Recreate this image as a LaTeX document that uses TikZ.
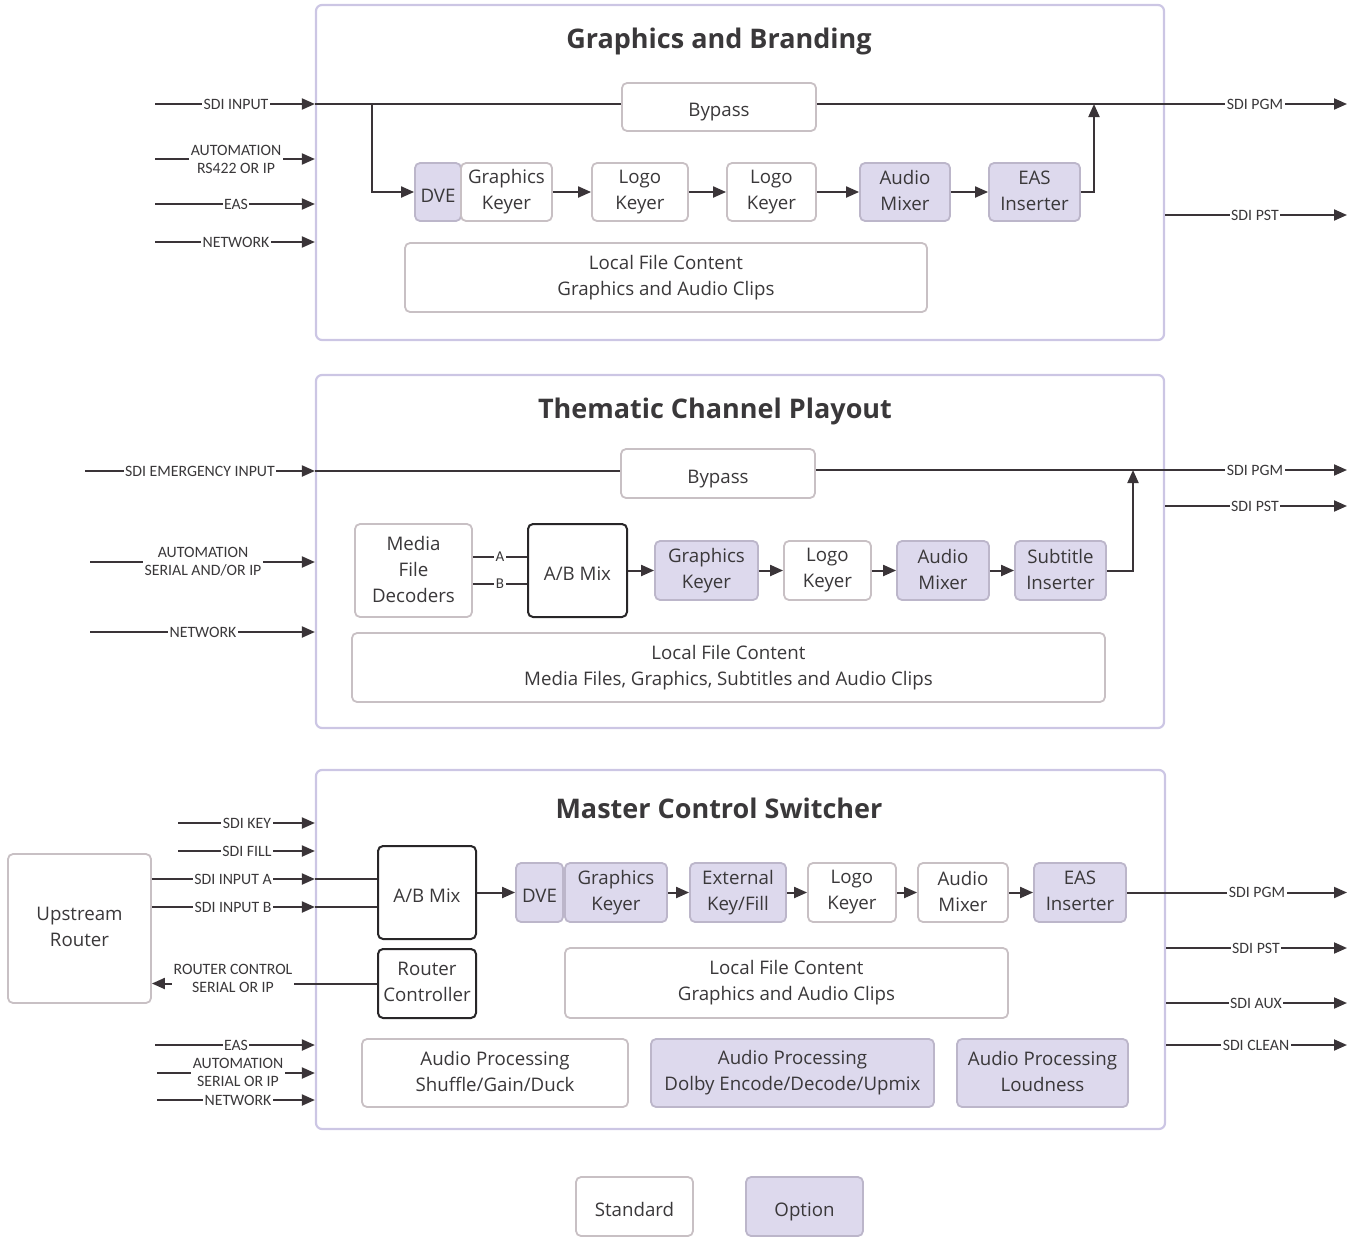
\documentclass[tikz,border=0pt]{standalone}
\usepackage{fontspec}
\setmainfont{Open Sans}
\newfontfamily\lblface{Carlito}
\usetikzlibrary{arrows.meta,calc}
\definecolor{optfill}{RGB}{221,217,237}
\definecolor{boxline}{RGB}{200,192,196}
\definecolor{optline}{RGB}{188,182,202}
\definecolor{panelline}{RGB}{204,198,228}
\definecolor{blkline}{RGB}{40,38,40}
\definecolor{wire}{RGB}{58,52,56}
\definecolor{txt}{RGB}{58,56,58}
\newcommand\bxfont{\fontsize{18.7}{26}\selectfont}
\newcommand\ttlfont{\fontsize{27}{30}\selectfont\bfseries}
\newcommand\lblfnt{\lblface\fontsize{15.8}{18}\selectfont}
\begin{document}
\begin{tikzpicture}[x=1pt,y=-1pt,
  wh/.style 2 args={minimum width=#1pt, minimum height=#2pt},
  box/.style={draw=boxline, line width=1.8pt, rounded corners=5pt, fill=white, text=txt, font=\bxfont, align=center, inner sep=0pt,
    execute at begin node={\rule{0pt}{23.5pt}}, execute at end node={\rule[-3pt]{0pt}{0pt}}},
  opt/.style={box, fill=optfill, draw=optline},
  blk/.style={box, draw=blkline, line width=2pt},
  panel/.style={draw=panelline, line width=2.2pt, rounded corners=6pt, inner sep=0pt},
  title/.style={font=\ttlfont, text=txt},
  conn/.style={draw=wire, line width=2pt},
  arr/.style={conn, -{Triangle[length=13pt,width=11pt]}},
  lbl/.style={font=\lblfnt, fill=white, inner xsep=1.5pt, inner ysep=0.5pt, align=center, text=txt},
]
\useasboundingbox (0,0) rectangle (1363,1237);

% ================= Panel 1 =================
\node[panel, wh={848}{335}] (p1) at (740,172.5) {};
\node[title] (t1) at (719,41) {Graphics and Branding};
\node[box, wh={194}{48}] (bp1) at (719,107) {Bypass};
\node[opt, wh={46}{58}] (dve1) at (438,192) {DVE};
\node[box, wh={91}{58}] (gk1) at (506.5,192) {Graphics\\Keyer};
\node[box, wh={96}{58}] (lk1a) at (640,192) {Logo\\Keyer};
\node[box, wh={89}{58}] (lk1b) at (771.5,192) {Logo\\Keyer};
\node[opt, wh={90}{58}] (am1) at (905,192) {Audio\\Mixer};
\node[opt, wh={91}{58}] (eas1) at (1034.5,192) {EAS\\Inserter};
\node[box, wh={522}{69}] (lf1) at (666,277.5) {Local File Content\\Graphics and Audio Clips};

\coordinate (i1a) at (155,104);
\coordinate (i1b) at (155,159);
\coordinate (i1c) at (155,204);
\coordinate (i1d) at (155,242);
\coordinate (j1) at (372,104);
\coordinate (j2) at (1094,104);
\coordinate (o1a) at (1347,104);
\coordinate (o1b) at (1347,215);

\draw[arr] (i1a) -- (i1a -| p1.west);
\draw[conn] (i1a -| p1.west) -- (bp1.west |- i1a);
\draw[arr] (j1) |- (dve1.west);
\draw[arr] (bp1.east |- o1a) -- (o1a);
\draw[arr] (eas1.east) -| (j2);
\draw[arr] (gk1) -- (lk1a);
\draw[arr] (lk1a) -- (lk1b);
\draw[arr] (lk1b) -- (am1);
\draw[arr] (am1) -- (eas1);
\draw[arr] (i1b) -- (i1b -| p1.west);
\draw[arr] (i1c) -- (i1c -| p1.west);
\draw[arr] (i1d) -- (i1d -| p1.west);
\draw[arr] (o1b -| p1.east) -- (o1b);

\node[lbl] (l1a) at (236,104) {SDI INPUT};
\node[lbl] (l1b) at (236,159) {AUTOMATION\\RS422 OR IP};
\node[lbl] (l1c) at (236,204) {EAS};
\node[lbl] (l1d) at (236,242) {NETWORK};
\node[lbl] (l1e) at (1255,104) {SDI PGM};
\node[lbl] (l1f) at (1255,215) {SDI PST};

% ================= Panel 2 =================
\node[panel, wh={848}{353}] (p2) at (740,551.5) {};
\node[title] (t2) at (715,411) {Thematic Channel Playout};
\node[box, wh={194}{49}] (bp2) at (718,473.5) {Bypass};
\node[box, wh={117}{93}] (mfd) at (413.5,570.5) {Media\\File\\Decoders};
\node[blk, wh={99}{93}] (ab2) at (577.5,570.5) {A/B Mix};
\node[opt, wh={103}{59}] (gk2) at (706.5,570.5) {Graphics\\Keyer};
\node[box, wh={87}{59}] (lk2) at (827.5,570.5) {Logo\\Keyer};
\node[opt, wh={92}{59}] (am2) at (943,570.5) {Audio\\Mixer};
\node[opt, wh={91}{59}] (si2) at (1060.5,570.5) {Subtitle\\Inserter};
\node[box, wh={753}{69}] (lf2) at (728.5,667.5) {Local File Content\\Media Files, Graphics, Subtitles and Audio Clips};

\coordinate (i2a) at (85,471);
\coordinate (i2b) at (90,562);
\coordinate (i2c) at (90,632);
\coordinate (j3) at (1133,470);
\coordinate (o2a) at (1347,470);
\coordinate (o2b) at (1347,506);

\draw[arr] (i2a) -- (i2a -| p2.west);
\draw[conn] (i2a -| p2.west) -- (bp2.west |- i2a);
\draw[arr] (bp2.east |- o2a) -- (o2a);
\draw[arr] (si2.east) -| (j3);
\draw[arr] (o2b -| p2.east) -- (o2b);
\draw[conn] ($(mfd.east)+(0,-14)$) -- ($(ab2.west)+(0,-14)$);
\draw[conn] ($(mfd.east)+(0,13)$) -- ($(ab2.west)+(0,13)$);
\draw[arr] (ab2) -- (gk2);
\draw[arr] (gk2) -- (lk2);
\draw[arr] (lk2) -- (am2);
\draw[arr] (am2) -- (si2);
\draw[arr] (i2b) -- (i2b -| p2.west);
\draw[arr] (i2c) -- (i2c -| p2.west);

\node[lbl] (l2a) at (200,471) {SDI EMERGENCY INPUT};
\node[lbl] (l2b) at (203,562) {AUTOMATION\\SERIAL AND/OR IP};
\node[lbl] (l2c) at (203,632) {NETWORK};
\node[lbl] (l2d) at (1255,470) {SDI PGM};
\node[lbl] (l2e) at (1255,506) {SDI PST};
\node[lbl, font=\lblface\fontsize{15}{15}\selectfont] (la) at (500,556.5) {A};
\node[lbl, font=\lblface\fontsize{15}{15}\selectfont] (lb) at (500,583.5) {B};

% ================= Panel 3 =================
\node[panel, wh={849}{359}] (p3) at (740.5,949.5) {};
\node[title] (t3) at (719,808) {Master Control Switcher};
\node[box, wh={143}{149}] (ur) at (79.5,928.5) {Upstream\\Router};
\node[blk, wh={98}{93}] (ab3) at (427,892.5) {A/B Mix};
\node[blk, wh={98}{69}] (rc) at (427,983.5) {Router\\Controller};
\node[opt, wh={47}{59}] (dve3) at (539.5,892.5) {DVE};
\node[opt, wh={102}{59}] (gk3) at (616,892.5) {Graphics\\Keyer};
\node[opt, wh={96}{59}] (ekf) at (738,892.5) {External\\Key/Fill};
\node[box, wh={88}{59}] (lk3) at (852,892.5) {Logo\\Keyer};
\node[box, wh={90}{59}] (am3) at (963,892.5) {Audio\\Mixer};
\node[opt, wh={92}{59}] (eas3) at (1080,892.5) {EAS\\Inserter};
\node[box, wh={443}{70}] (lf3) at (786.5,983) {Local File Content\\Graphics and Audio Clips};
\node[box, wh={266}{68}] (ap1) at (495,1073) {Audio Processing\\Shuffle/Gain/Duck};
\node[opt, wh={283}{68}] (ap2) at (792.5,1073) {Audio Processing\\Dolby Encode/Decode/Upmix};
\node[opt, wh={171}{68}] (ap3) at (1042.5,1073) {Audio Processing\\Loudness};

\coordinate (i3a) at (178,823);
\coordinate (i3b) at (178,851);
\coordinate (y3a) at (0,879);
\coordinate (y3b) at (0,907);
\coordinate (i3e) at (155,1045);
\coordinate (i3f) at (157,1073);
\coordinate (i3g) at (157,1100);
\coordinate (o3a) at (1347,892.5);
\coordinate (o3b) at (1347,948);
\coordinate (o3c) at (1347,1003);
\coordinate (o3d) at (1347,1045);

\draw[arr] (i3a) -- (i3a -| p3.west);
\draw[arr] (i3b) -- (i3b -| p3.west);
\draw[arr] (ur.east |- y3a) -- (p3.west |- y3a);
\draw[conn] (p3.west |- y3a) -- (ab3.west |- y3a);
\draw[arr] (ur.east |- y3b) -- (p3.west |- y3b);
\draw[conn] (p3.west |- y3b) -- (ab3.west |- y3b);
\draw[arr] (rc.west) -- (ur.east |- rc.west);
\draw[arr] (ab3) -- (dve3);
\draw[arr] (gk3) -- (ekf);
\draw[arr] (ekf) -- (lk3);
\draw[arr] (lk3) -- (am3);
\draw[arr] (am3) -- (eas3);
\draw[arr] (eas3.east) -- (o3a);
\draw[arr] (o3b -| p3.east) -- (o3b);
\draw[arr] (o3c -| p3.east) -- (o3c);
\draw[arr] (o3d -| p3.east) -- (o3d);
\draw[arr] (i3e) -- (i3e -| p3.west);
\draw[arr] (i3f) -- (i3f -| p3.west);
\draw[arr] (i3g) -- (i3g -| p3.west);

\node[lbl] (l3a) at (247,823) {SDI KEY};
\node[lbl] (l3b) at (247,851) {SDI FILL};
\node[lbl] (l3c) at (233,879) {SDI INPUT A};
\node[lbl] (l3d) at (233,907) {SDI INPUT B};
\node[lbl] (l3e) at (233,978) {ROUTER CONTROL\\SERIAL OR IP};
\node[lbl] (l3f) at (236,1045) {EAS};
\node[lbl] (l3g) at (238,1072) {AUTOMATION\\SERIAL OR IP};
\node[lbl] (l3h) at (238,1100) {NETWORK};
\node[lbl] (l3i) at (1257,892.5) {SDI PGM};
\node[lbl] (l3j) at (1256,948) {SDI PST};
\node[lbl] (l3k) at (1256,1003) {SDI AUX};
\node[lbl] (l3l) at (1256,1045) {SDI CLEAN};

% ================= Legend =================
\node[box, wh={117}{59}] (std) at (634.5,1206.5) {Standard};
\node[opt, wh={117}{59}] (opt) at (804.5,1206.5) {Option};
\end{tikzpicture}
\end{document}
